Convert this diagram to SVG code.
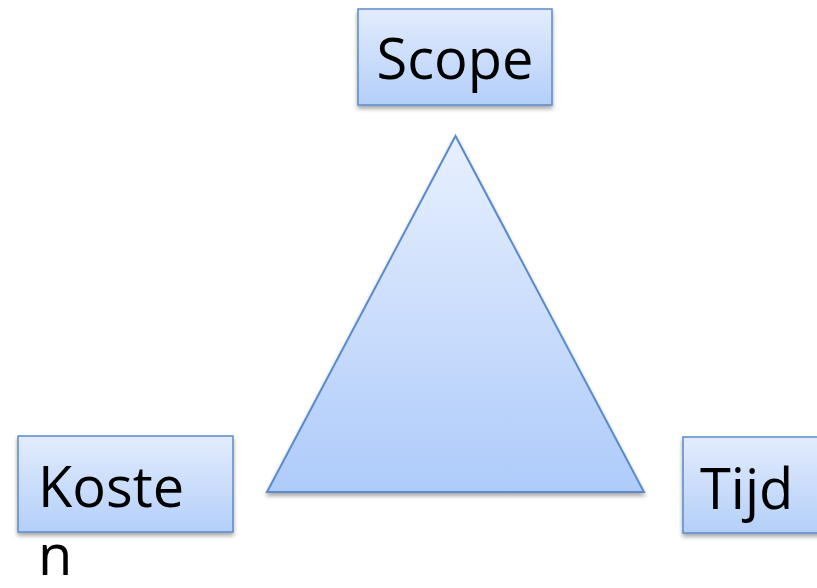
<svg xmlns="http://www.w3.org/2000/svg" width="817" height="588" viewBox="0 0 817 588">
  <defs>
    <linearGradient id="boxGrad" x1="0" y1="0" x2="0" y2="1">
      <stop offset="0" stop-color="#e3ecfd"/>
      <stop offset="1" stop-color="#b3cff9"/>
    </linearGradient>
    <linearGradient id="triGrad" x1="0" y1="0" x2="0" y2="1">
      <stop offset="0" stop-color="#e8f0fe"/>
      <stop offset="1" stop-color="#aecbfa"/>
    </linearGradient>
    <filter id="shadow" x="-10%" y="-10%" width="120%" height="125%">
      <feGaussianBlur in="SourceAlpha" stdDeviation="2"/>
      <feOffset dx="0" dy="3" result="b"/>
      <feComponentTransfer><feFuncA type="linear" slope="0.35"/></feComponentTransfer>
      <feMerge><feMergeNode/><feMergeNode in="SourceGraphic"/></feMerge>
    </filter>
  </defs>
  <style>
    .box { fill: url(#boxGrad); stroke: #5b8bc9; stroke-width: 1.5; filter: url(#shadow); }
    .tri { fill: url(#triGrad); stroke: #5b8bc9; stroke-width: 2; stroke-linejoin: miter; filter: url(#shadow); }
    .lbl { font-family: "Open Sans", "Noto Sans", "DejaVu Sans", sans-serif; font-size: 56px; fill: #000000; }
  </style>
  <rect width="817" height="588" fill="#ffffff"/>
  <g id="triangle">
    <polygon class="tri" points="455.5,136 267,492 644,492"/>
  </g>
  <g id="node-scope">
    <rect class="box" x="358" y="9" width="194" height="96"/>
    <text class="lbl" x="455" y="79" text-anchor="middle">Scope</text>
  </g>
  <g id="node-kosten">
    <rect class="box" x="18" y="436" width="215" height="96"/>
    <text class="lbl" x="38" y="507">Koste</text>
    <text class="lbl" x="38" y="575">n</text>
  </g>
  <g id="node-tijd">
    <rect class="box" x="683" y="437" width="145" height="96"/>
    <text class="lbl" x="700" y="509">Tijd</text>
  </g>
  <g id="connectors"></g>
</svg>
